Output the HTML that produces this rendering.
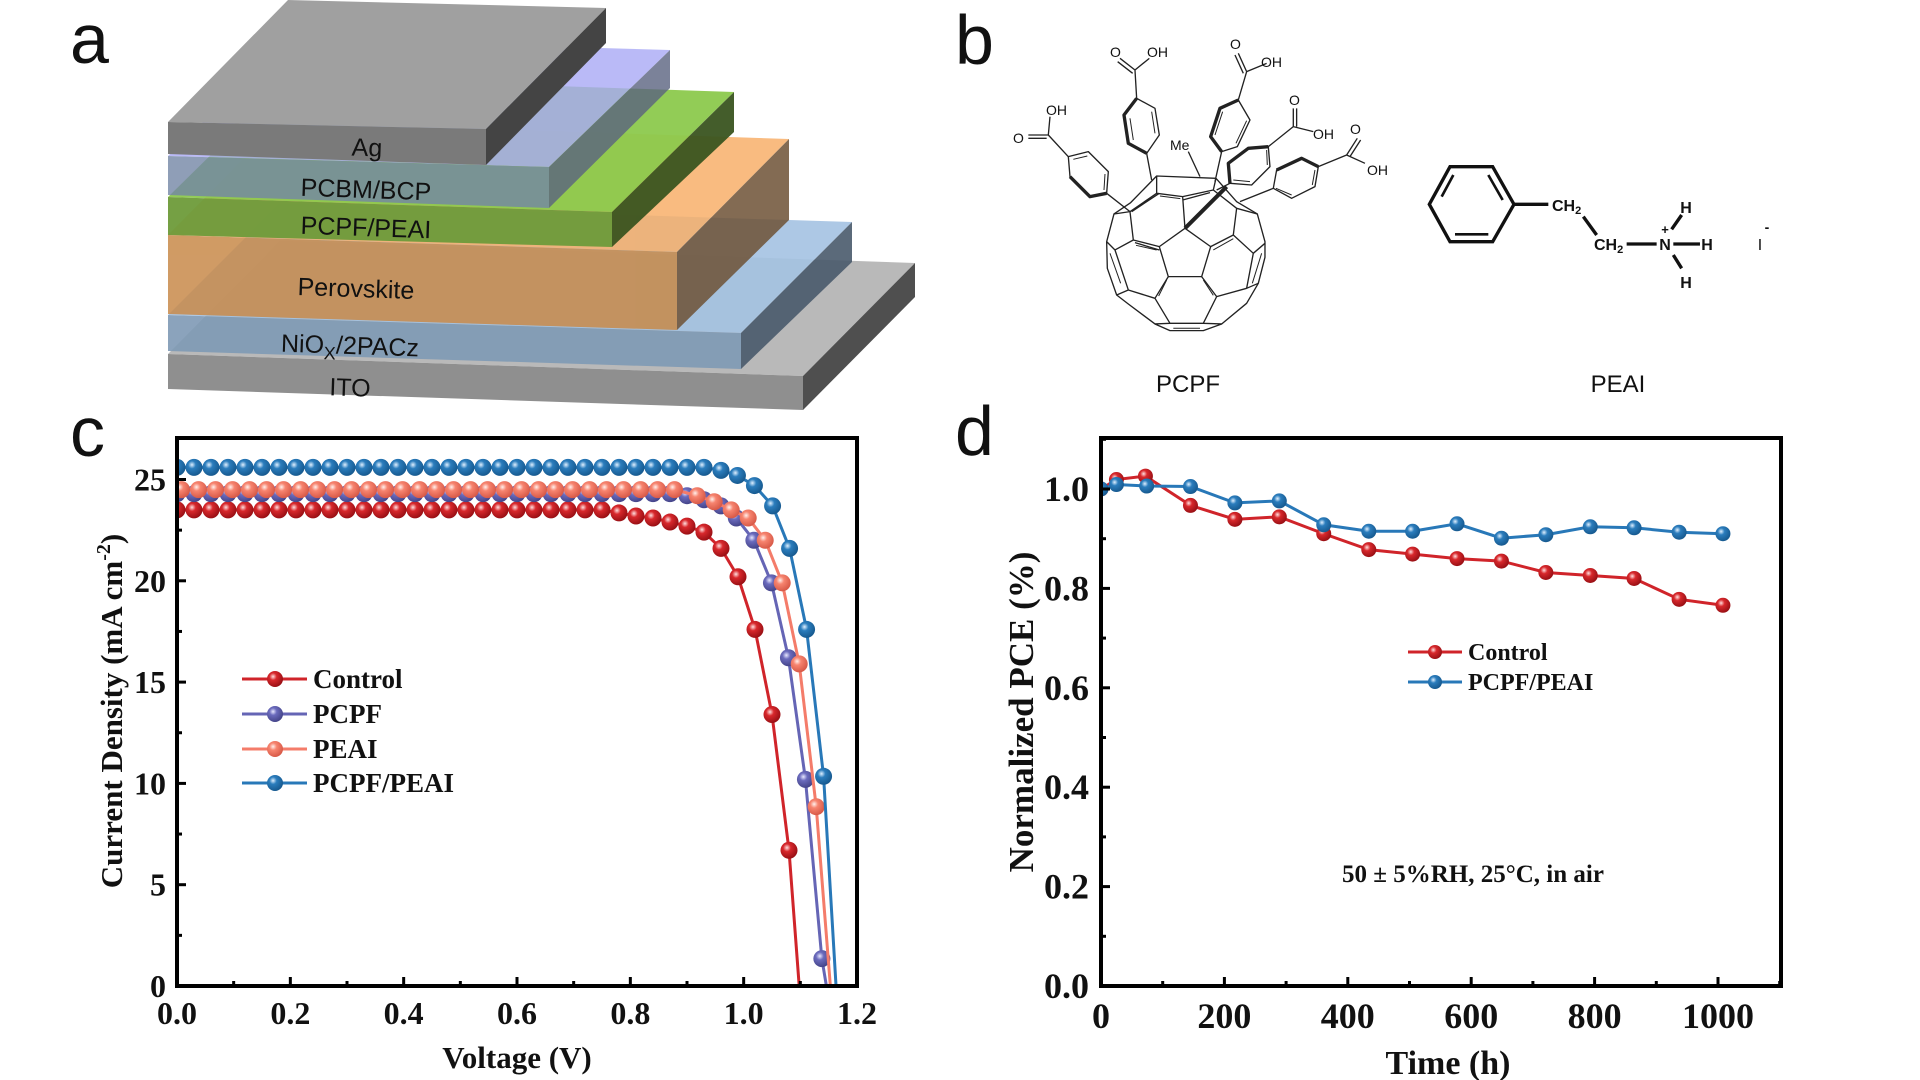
<!DOCTYPE html>
<html><head><meta charset="utf-8"><style>
html,body{margin:0;padding:0;background:#fff;}
svg{display:block;}
.sf{font-family:"Liberation Serif",serif;font-weight:bold;fill:#111;}
.ss{font-family:"Liberation Sans",sans-serif;fill:#111;}
</style></head><body>
<svg id="s" width="1920" height="1080" viewBox="0 0 1920 1080" xmlns="http://www.w3.org/2000/svg">
<defs>
<radialGradient id="gr" cx="0.38" cy="0.35" r="0.65"><stop offset="0" stop-color="#ffe0e0"/><stop offset="0.35" stop-color="#d8282c"/><stop offset="1" stop-color="#9a1015"/></radialGradient>
<radialGradient id="gp" cx="0.38" cy="0.35" r="0.65"><stop offset="0" stop-color="#e8e8ff"/><stop offset="0.35" stop-color="#6b6bbd"/><stop offset="1" stop-color="#45458a"/></radialGradient>
<radialGradient id="go" cx="0.38" cy="0.35" r="0.65"><stop offset="0" stop-color="#fff0ec"/><stop offset="0.35" stop-color="#f7846f"/><stop offset="1" stop-color="#d85a48"/></radialGradient>
<radialGradient id="gb" cx="0.38" cy="0.35" r="0.65"><stop offset="0" stop-color="#e0f0ff"/><stop offset="0.35" stop-color="#2b7dbd"/><stop offset="1" stop-color="#175a90"/></radialGradient>
<clipPath id="cc"><rect x="177" y="438" width="680" height="548"/></clipPath>
<clipPath id="cd"><rect x="1101" y="438" width="680" height="548"/></clipPath>
</defs>

<!-- Panel a: layer stack -->
<g>
<polygon points="168,354 803,376 915,263 280,241" fill="#b9b9b9"/>
<polygon points="168,354 803,376 803,410 168,389" fill="#8f8f8f"/>
<polygon points="803,376 915,263 915,297 803,410" fill="#4f4f4f"/>

<g opacity="0.9">
<polygon points="168,315 741,333 852,222 279,204" fill="#a5c3e3"/>
<polygon points="168,315 741,333 741,369 168,351" fill="#7f9ab5"/>
<polygon points="741,333 852,222 852,262 741,369" fill="#4a5a6c"/>
</g>
<g opacity="0.85">
<polygon points="168,235 677,252 789,139 280,122" fill="#f8b06a"/>
<polygon points="168,235 677,252 677,330 168,314" fill="#c88a4a"/>
<polygon points="677,252 789,139 789,220 677,330" fill="#6e5236"/>
</g>
<g opacity="0.95">
<polygon points="168,197 612,212 734,92 290,77" fill="#8dca4d"/>
<polygon points="168,197 612,212 612,247 168,235" fill="#6e9b3b"/>
<polygon points="612,212 734,92 734,132 612,247" fill="#3b5520"/>
</g>
<g opacity="0.8">
<polygon points="168,156 549,167 670,50 289,39" fill="#a9aaf6"/>
<polygon points="168,156 549,167 549,208 168,195" fill="#7486a6"/>
<polygon points="549,167 670,50 670,88 549,208" fill="#5b6380"/>
</g>
<g>
<polygon points="168,122 486,129 606,8 288,0" fill="#a0a0a0"/>
<polygon points="168,122 486,129 486,165 168,154" fill="#7a7a7a"/>
<polygon points="486,129 606,8 606,43 486,165" fill="#444"/>
</g>
<g class="ss" font-size="25" text-anchor="middle">
<text x="367" y="156" transform="rotate(2 367 147)">Ag</text>
<text x="366" y="198" transform="rotate(2 366 189)">PCBM/BCP</text>
<text x="366" y="236" transform="rotate(2 366 227)">PCPF/PEAI</text>
<text x="356" y="297" transform="rotate(2 356 288)">Perovskite</text>
<text x="350" y="354" transform="rotate(2 350 345)">NiO<tspan font-size="18" dy="6">X</tspan><tspan dy="-6">/2PACz</tspan></text>
<text x="350" y="396" transform="rotate(2 350 387)">ITO</text>
</g>
</g>

<!-- panel letters -->
<g class="ss" font-size="70">
<text x="70" y="63">a</text>
<text x="955" y="64">b</text>
<text x="70" y="456">c</text>
<text x="955" y="455">d</text>
</g>

<!-- Panel b: PCPF -->
<g transform="translate(1000,20) scale(0.3333)" fill="none" stroke="#222" stroke-width="4" stroke-linejoin="round">
<polygon points="470,468 648,475 710,545 772,582 795,665 795,712 775,790 740,850 665,912 610,932 510,932 465,912 385,852 350,825 322,745 320,665 342,582 392,548"/>
<polygon points="555,625 632,680 605,770 505,770 478,680"/>
<path d="M555,625 L548,530 M632,680 L700,645 M605,770 L650,830 M505,770 L465,835 M478,680 L400,660
M390,575 L470,520 L548,530 L640,510 L710,565 M470,520 L470,468 M640,510 L648,475
M400,660 L390,575 M700,645 L710,565 M390,575 L342,582 M710,565 L772,582
M400,660 L345,690 L320,665 M700,645 L760,700 L795,670 M345,690 L385,810 L350,825 M760,700 L740,805 L775,790
M385,810 L465,835 L510,910 L610,910 L650,830 L740,805 M510,910 L465,912 M610,910 L665,912
M478,520 L395,575 M478,690 L405,668 M548,540 L630,518"/>
<path d="M520,925 L600,925 M330,700 L362,790 M785,700 L757,790 M500,780 L476,828 M610,780 L640,826 M408,676 L470,690 M700,656 L640,690 M480,528 L541,536" stroke-width="3"/>
<polygon points="205,410 265,395 325,455 320,520 270,530 210,470"/>
<path d="M210,470 L270,530 L320,520" stroke-width="10"/>
<path d="M220,418 L262,408 M315,462 L312,510" stroke-width="3"/>
<path d="M205,410 L145,345 M145,345 L85,345 M140,355 L85,355 M145,345 L150,290 M320,520 L390,575"/>
<polygon points="410,235 465,265 478,345 440,400 385,370 372,285"/>
<path d="M410,235 L372,285 L385,370 L440,400" stroke-width="10"/>
<path d="M455,275 L465,340 M390,295 L400,360" stroke-width="3"/>
<path d="M410,235 L405,150 M405,150 L360,115 M398,160 L353,125 M405,150 L448,115 M440,400 L455,480"/>
<polygon points="715,240 750,300 712,380 665,395 632,350 660,265"/>
<path d="M715,240 L660,265 L632,350 L665,395" stroke-width="10"/>
<path d="M740,302 L708,370 M668,275 L645,345" stroke-width="3"/>
<path d="M715,240 L740,155 M740,155 L715,100 M730,160 L705,105 M740,155 L800,130 M665,395 L645,485"/>
<polygon points="805,380 810,440 755,495 690,490 685,430 745,385"/>
<path d="M805,380 L745,385 L685,430 L690,490" stroke-width="10"/>
<path d="M800,390 L802,435 M700,480 L750,485" stroke-width="3"/>
<path d="M805,380 L880,320 M880,320 L880,265 M890,320 L890,265 M880,320 L940,335 M690,490 L650,510"/>
<polygon points="905,415 955,440 945,500 875,535 820,505 830,450"/>
<path d="M830,450 L905,415 L955,440" stroke-width="10"/>
<path d="M945,450 L937,495 M828,505 L875,525" stroke-width="3"/>
<path d="M955,440 L1040,405 M1040,405 L1072,355 M1050,410 L1082,360 M1040,405 L1095,430 M820,505 L720,545"/>
<path d="M565,395 L600,470"/>
<path d="M680,500 L555,625" stroke-width="12"/>
</g>
<g class="ss" font-size="14">
<text x="1013" y="143">O</text><text x="1046" y="115">OH</text>
<text x="1110" y="57">O</text><text x="1147" y="57">OH</text>
<text x="1230" y="49">O</text><text x="1261" y="67">OH</text>
<text x="1289" y="105">O</text><text x="1313" y="139">OH</text>
<text x="1350" y="134">O</text><text x="1367" y="175">OH</text>
<text x="1170" y="150">Me</text>
</g>
<text class="ss" font-size="24" x="1188" y="392" text-anchor="middle">PCPF</text>

<!-- PEAI -->
<g transform="translate(1420,140) scale(0.3333)" fill="none" stroke="#111" stroke-width="10">
<polygon points="28,193 90,80 218,80 282,193 218,305 90,305"/>
<path d="M100,105 L65,170 M205,105 L248,180 M105,283 L205,283" stroke-width="8"/>
<path d="M282,193 L385,193 M490,230 L530,285 M620,312 L710,312 M755,268 L785,225 M760,312 L840,312 M760,345 L785,385"/>
</g>
<g class="ss" font-size="16" font-weight="bold">
<text x="1552" y="211">CH<tspan font-size="11" dy="3">2</tspan></text>
<text x="1594" y="250">CH<tspan font-size="11" dy="3">2</tspan></text>
<text x="1665" y="250" text-anchor="middle">N</text>
<text x="1665" y="234" text-anchor="middle" font-size="13">+</text>
<text x="1686" y="213" text-anchor="middle">H</text>
<text x="1707" y="250" text-anchor="middle">H</text>
<text x="1686" y="288" text-anchor="middle">H</text>
<text x="1760" y="250" text-anchor="middle" font-weight="normal">I</text>
<text x="1767" y="232" text-anchor="middle" font-size="14">-</text>
</g>
<text class="ss" font-size="24" x="1618" y="392" text-anchor="middle">PEAI</text>

<g id="plots"></g>
</svg>
<script>
var NS="http://www.w3.org/2000/svg";
var P=document.getElementById("plots");
function el(t,a,parent,txt){if(typeof parent==="string"){txt=parent;parent=null;}var e=document.createElementNS(NS,t);for(var k in a)e.setAttribute(k,a[k]);if(txt!==undefined)e.textContent=txt;(parent||P).appendChild(e);return e;}
function tx(a,s){return el("text",a,P,s);}
// ---- Panel c ----
function cx(v){return 177+v*566.67;} function cy(j){return 986-j*20.26;}
var gc=el("g",{"clip-path":"url(#cc)"});
function flat(x0,step,xmax,j){var a=[];for(var x=x0;x<=xmax+1e-9;x+=step)a.push([x,j]);return a;}
var ctrl=flat(0,0.03,0.75,23.5).concat([[0.78,23.35],[0.81,23.2],[0.84,23.1],[0.87,22.9],[0.90,22.7],[0.93,22.4],[0.96,21.6],[0.99,20.2],[1.02,17.6],[1.05,13.4],[1.08,6.7]]);
var pcpf=flat(0,0.03,0.87,24.3).concat([[0.90,24.2],[0.93,24.0],[0.96,23.7],[0.987,23.1],[1.018,22.0],[1.049,19.9],[1.079,16.2],[1.109,10.2],[1.138,1.35]]);
var peai=flat(0.008,0.03,0.89,24.5).concat([[0.918,24.2],[0.948,23.9],[0.978,23.5],[1.008,23.1],[1.038,22.0],[1.068,19.9],[1.098,15.9],[1.128,8.85]]);
var blue=flat(0,0.03,0.93,25.6).concat([[0.96,25.45],[0.989,25.2],[1.019,24.7],[1.051,23.7],[1.081,21.6],[1.111,17.6],[1.141,10.35]]);
var sets=[[ctrl,1.098,"#d0242a","gr"],[pcpf,1.146,"#6565b5","gp"],[peai,1.153,"#f47c6a","go"],[blue,1.163,"#2878b8","gb"]];
sets.forEach(function(s){var pts=s[0].map(function(p){return cx(p[0])+","+cy(p[1]);});pts.push(cx(s[1])+","+cy(0));
 el("polyline",{points:pts.join(" "),fill:"none",stroke:s[2],"stroke-width":3},gc);
 s[0].forEach(function(p){el("circle",{cx:cx(p[0]),cy:cy(p[1]),r:8.5,fill:"url(#"+s[3]+")"},gc);});});
el("rect",{x:177,y:438,width:680,height:548,fill:"none",stroke:"#000","stroke-width":4});
for(var i=0;i<=12;i++){var x=cx(i*0.1);var L=i%2?5:9;el("line",{x1:x,y1:986,x2:x,y2:986-L,stroke:"#000","stroke-width":3});
 if(i%2==0)tx({x:x,y:1024,"text-anchor":"middle","class":"sf","font-size":32},(i/10).toFixed(1));}
for(var j=0;j<=27;j+=2.5){var y=cy(j);var L=(j%5==0)?9:5;el("line",{x1:177,y1:y,x2:177+L,y2:y,stroke:"#000","stroke-width":3});
 if(j%5==0)tx({x:166,y:y+11,"text-anchor":"end","class":"sf","font-size":32},String(j));}
tx({x:517,y:1068,"text-anchor":"middle","class":"sf","font-size":31},"Voltage (V)");
var t=tx({x:0,y:0,"text-anchor":"middle","class":"sf","font-size":31,transform:"translate(122,711) rotate(-90)"},"Current Density (mA cm");
el("tspan",{"font-size":20,dy:-12},t,"-2");el("tspan",{dy:12},t,")");
var leg=[["Control","#d0242a","gr",679],["PCPF","#6565b5","gp",714],["PEAI","#f47c6a","go",749],["PCPF/PEAI","#2878b8","gb",783]];
leg.forEach(function(l){el("line",{x1:242,y1:l[3],x2:307,y2:l[3],stroke:l[1],"stroke-width":3});el("circle",{cx:275,cy:l[3],r:8,fill:"url(#"+l[2]+")"});
 tx({x:313,y:l[3]+9,"class":"sf","font-size":27},l[0]);});
// ---- Panel d ----
function dx(h){return 1101+h*0.617;} function dy(p){return 986-p*497;}
var gd=el("g",{"clip-path":"url(#cd)"});
var dc=[[0,1.0],[25,1.019],[72,1.026],[145,0.967],[217,0.939],[289,0.944],[361,0.910],[434,0.878],[505,0.869],[577,0.860],[649,0.855],[721,0.832],[793,0.826],[864,0.820],[937,0.778],[1008,0.766]];
var db=[[0,1.0],[25,1.009],[74,1.006],[145,1.005],[217,0.972],[289,0.976],[361,0.928],[434,0.915],[505,0.915],[577,0.930],[649,0.901],[721,0.908],[793,0.924],[864,0.922],[937,0.913],[1008,0.910]];
[[dc,"#d0242a","gr"],[db,"#2878b8","gb"]].forEach(function(s){
 el("polyline",{points:s[0].map(function(p){return dx(p[0])+","+dy(p[1]);}).join(" "),fill:"none",stroke:s[1],"stroke-width":3},gd);
 s[0].forEach(function(p){el("circle",{cx:dx(p[0]),cy:dy(p[1]),r:7.5,fill:"url(#"+s[2]+")"},gd);});});
el("rect",{x:1101,y:438,width:680,height:548,fill:"none",stroke:"#000","stroke-width":4});
for(var h=0;h<=1100;h+=100){var x=dx(h);var L=h%200?5:9;el("line",{x1:x,y1:986,x2:x,y2:986-L,stroke:"#000","stroke-width":3});
 if(h%200==0)tx({x:x,y:1028,"text-anchor":"middle","class":"sf","font-size":36},String(h));}
for(var k=0;k<=11;k++){var y=dy(k/10);var L=k%2?5:9;el("line",{x1:1101,y1:y,x2:1101+L,y2:y,stroke:"#000","stroke-width":3});
 if(k%2==0)tx({x:1089,y:y+12,"text-anchor":"end","class":"sf","font-size":36},(k/10).toFixed(1));}
tx({x:1448,y:1074,"text-anchor":"middle","class":"sf","font-size":34},"Time (h)");
tx({x:0,y:0,"text-anchor":"middle","class":"sf","font-size":35,transform:"translate(1033,712) rotate(-90)"},"Normalized PCE (%)");
[["Control","#d0242a","gr",652],["PCPF/PEAI","#2878b8","gb",682]].forEach(function(l){
 el("line",{x1:1408,y1:l[3],x2:1462,y2:l[3],stroke:l[1],"stroke-width":3});el("circle",{cx:1435,cy:l[3],r:7,fill:"url(#"+l[2]+")"});
 tx({x:1468,y:l[3]+8,"class":"sf","font-size":24},l[0]);});
tx({x:1473,y:882,"text-anchor":"middle","class":"sf","font-size":25},"50 \u00b1 5%RH, 25\u00b0C, in air");
</script>
</body></html>
